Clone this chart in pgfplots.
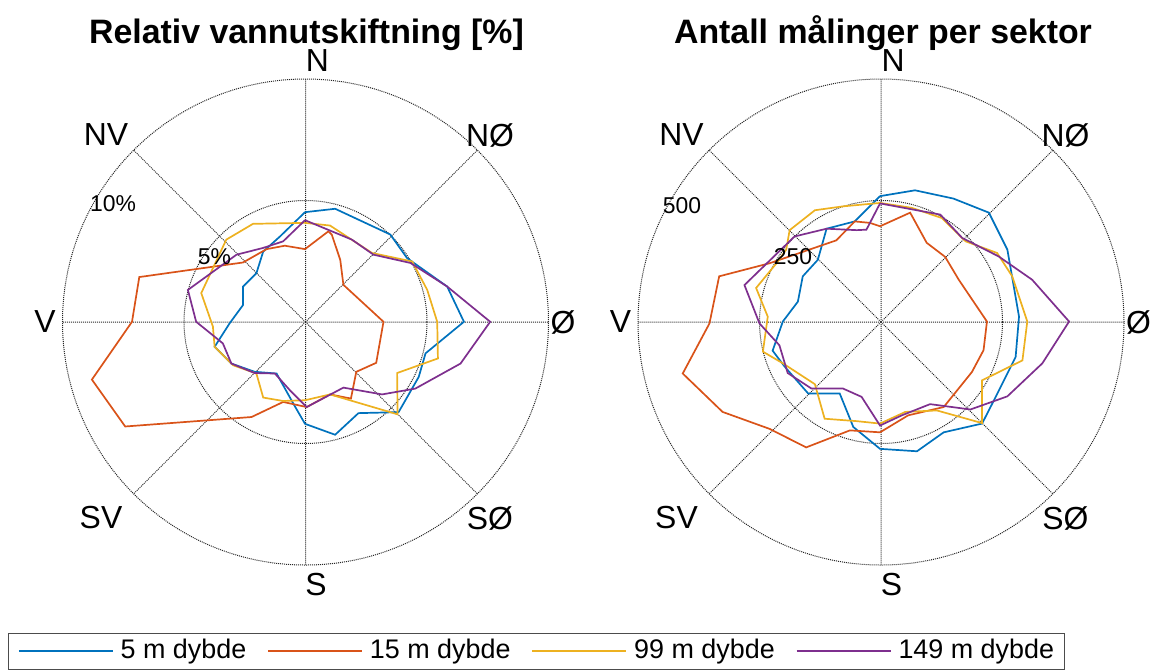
\documentclass[border=0pt]{standalone}
\usepackage{fontspec}
\setmainfont{Liberation Sans}
\usepackage{pgfplots}
\pgfplotsset{compat=1.18}
\usepgfplotslibrary{polar}
\definecolor{mblue}{RGB}{0,114,189}
\definecolor{morange}{RGB}{217,83,25}
\definecolor{myellow}{RGB}{237,177,32}
\definecolor{mpurple}{RGB}{126,47,142}
\pgfplotsset{
  mypolar/.style={
    width=486bp, height=486bp, scale only axis,
    anchor=center,
    xtick={0,45,...,315}, xticklabels={},
    yticklabels={},
    tick label style={text opacity=0, font=\tiny},
    xmajorgrids, ymajorgrids,
    grid style={densely dotted, black!85, line width=1bp},
    major grid style={densely dotted, black!85, line width=1bp},
    axis line style={draw=none},
    major tick length=0pt,
    every axis plot/.append style={line width=1.7bp, data cs=cart, mark=none},
  }
}
\begin{document}
\begin{tikzpicture}
\path[use as bounding box] (0,0) rectangle (1151bp,-671bp);
% ---------------- left ----------------
\begin{polaraxis}[mypolar,
  at={(305.5bp,-322bp)},
  ymin=0, ymax=10, ytick={5,10},
  legend columns=4,
  legend style={at={(0.9743,-0.177)}, anchor=center,
    draw=black!70, line width=0.7bp, fill=white,
    inner xsep=10bp, inner ysep=5bp,
    font=\fontsize{27}{30}\selectfont,
    nodes={inner sep=0pt, text height=20bp, text depth=6bp, text opacity=1},
    /tikz/every odd column/.append style={column sep=7bp},
    /tikz/every even column/.append style={column sep=21bp}},
  legend image code/.code={\draw[#1] (0bp,0bp) -- (94bp,0bp);},
]
\addplot[mblue] coordinates {(-0.02,4.52) (1.22,4.66) (3.49,3.60) (4.18,2.63) (5.83,1.46) (6.52,0.01) (4.94,-1.29) (4.66,-2.26) (3.83,-3.71) (2.18,-3.75) (1.22,-4.64) (-0.02,-4.19) (-0.50,-3.36) (-1.19,-2.12) (-2.09,-2.05) (-3.05,-1.71) (-3.74,-1.02) (-3.12,-0.05) (-2.57,0.70) (-2.57,1.46) (-2.02,2.01) (-1.74,2.90) (-1.05,3.52) (-0.02,4.52)};
\addlegendentry{5 m dybde}
\addplot[morange] coordinates {(-0.02,3.00) (0.94,3.73) (1.08,3.60) (1.43,2.56) (1.56,1.53) (3.21,0.01) (2.91,-1.68) (2.09,-2.05) (1.87,-3.15) (1.01,-2.98) (0.05,-3.50) (-0.92,-3.29) (-2.22,-3.91) (-7.42,-4.30) (-8.79,-2.37) (-7.14,0.01) (-6.84,1.85) (-2.57,2.45) (-1.60,3.00) (-0.85,3.14) (-0.02,3.00)};
\addlegendentry{15 m dybde}
\addplot[myellow] coordinates {(-0.02,4.08) (1.01,3.97) (2.74,2.84) (4.39,2.49) (5.01,1.32) (5.42,0.01) (5.45,-1.50) (3.77,-2.10) (3.79,-3.80) (1.01,-2.98) (-0.02,-3.22) (-0.92,-3.25) (-1.74,-3.11) (-2.02,-2.12) (-2.98,-1.78) (-3.74,-1.02) (-3.81,-0.19) (-4.29,1.19) (-3.26,3.39) (-2.16,4.04) (-0.02,4.08)};
\addlegendentry{99 m dybde}
\addplot[mpurple] coordinates {(-0.02,4.19) (1.91,3.39) (2.80,2.77) (4.32,2.43) (5.83,1.46) (7.60,0.01) (6.38,-1.71) (4.52,-2.74) (3.15,-2.98) (1.56,-2.70) (0.05,-3.50) (-0.64,-2.81) (-1.26,-2.12) (-2.09,-2.10) (-3.05,-1.71) (-3.40,-0.88) (-4.50,0.01) (-4.84,1.32) (-2.84,2.77) (-1.74,3.05) (-0.92,3.32) (-0.02,4.19)};
\addlegendentry{149 m dybde}
\end{polaraxis}
% ---------------- right ----------------
\begin{polaraxis}[mypolar,
  at={(881bp,-322bp)},
  ymin=0, ymax=500, ytick={250,500},
]
\addplot[mblue] coordinates {(-2,259) (70,271) (149,254) (222,225) (260,149) (284,11) (277,-72) (236,-154) (208,-209) (129,-227) (74,-266) (-2,-261) (-57,-216) (-85,-147) (-150,-147) (-198,-92) (-223,-59) (-202,1) (-171,42) (-161,94) (-130,128) (-112,192) (-54,207) (-2,259)};
\addplot[morange] coordinates {(-2,197) (60,225) (94,163) (132,134) (160,87) (218,1) (211,-58) (187,-103) (129,-175) (56,-192) (-2,-227) (-64,-223) (-154,-258) (-229,-220) (-326,-185) (-408,-106) (-353,-3) (-333,94) (-229,121) (-92,168) (-54,207) (-23,204) (-2,197)};
\addplot[myellow] coordinates {(-2,245) (63,235) (125,214) (174,166) (239,142) (270,94) (301,1) (291,-79) (208,-120) (208,-208) (115,-182) (50,-185) (-2,-209) (-50,-204) (-116,-199) (-136,-128) (-202,-85) (-243,-61) (-233,11) (-257,70) (-215,121) (-195,149) (-188,189) (-136,230) (-78,238) (-2,245)};
\addplot[mpurple] coordinates {(-2,244) (122,221) (167,173) (242,135) (311,87) (387,1) (332,-85) (260,-153) (184,-180) (101,-169) (43,-192) (-2,-213) (-40,-154) (-78,-137) (-143,-137) (-192,-105) (-209,-48) (-250,-3) (-281,76) (-178,176) (-112,192) (-50,189) (-30,190) (-2,244)};
\end{polaraxis}
% ---------------- titles and labels ----------------
\node[font=\fontsize{34}{40}\selectfont\bfseries, anchor=base] at (306.5bp,-43bp) {Relativ vannutskiftning [\%]};
\node[font=\fontsize{34}{40}\selectfont\bfseries, anchor=base] at (883bp,-43bp) {Antall målinger per sektor};
\foreach \cx in {0,575.5}{
  \begin{scope}[xshift=\cx bp, every node/.style={font=\fontsize{32}{38}\selectfont}]
  \node at (317.5bp,-61bp) {N};
  \node at (490bp,-135bp) {NØ};
  \node at (563bp,-322bp) {Ø};
  \node at (490bp,-518bp) {SØ};
  \node at (316bp,-585bp) {S};
  \node at (101bp,-518bp) {SV};
  \node at (45bp,-322bp) {V};
  \node at (106bp,-135bp) {NV};
  \end{scope}
}
\begin{scope}[every node/.style={font=\fontsize{23}{28}\selectfont}]
\node at (113bp,-204bp) {10\%};
\node at (214.5bp,-256.5bp) {5\%};
\node at (682bp,-205.5bp) {500};
\node at (793bp,-256.5bp) {250};
\end{scope}
\end{tikzpicture}
\end{document}
